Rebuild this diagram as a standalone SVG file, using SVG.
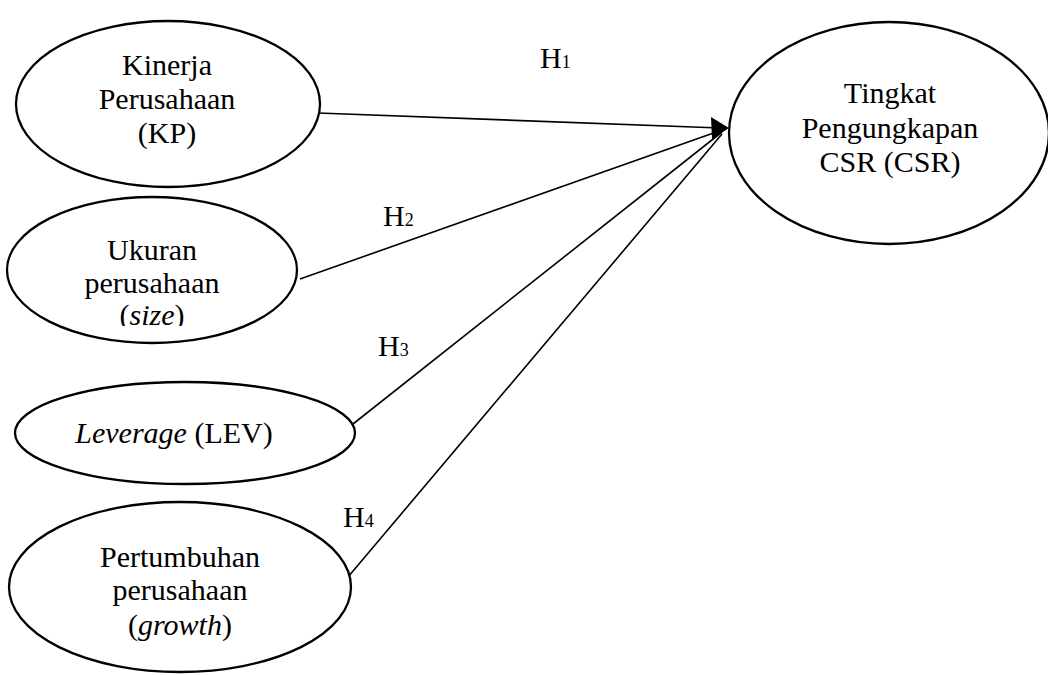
<svg xmlns="http://www.w3.org/2000/svg" width="1048" height="675" viewBox="0 0 1048 675">
<style>
.node ellipse{fill:#fff;stroke:#000;stroke-width:2.3}
text{font-family:"Liberation Serif","DejaVu Serif",serif;font-size:30px;fill:#000;text-anchor:middle}
.lbl{text-anchor:start}
.sub{font-size:18px}
.conn line{stroke:#000;stroke-width:1.6;fill:none}
</style>
<defs>
<clipPath id="c2"><rect x="0" y="180" width="320" height="146"/></clipPath>
<clipPath id="c4"><rect x="0" y="490" width="360" height="153"/></clipPath>
</defs>
<g class="conn">
<line x1="318" y1="113" x2="720" y2="128"/>
<line x1="300" y1="279" x2="722" y2="130"/>
<line x1="353" y1="424" x2="722" y2="132"/>
<line x1="348" y1="577" x2="722" y2="134"/>
<path d="M729,128 L711,117 L712,139 z" fill="#000"/>
</g>
<g id="kp" class="node">
<ellipse cx="168" cy="104" rx="152" ry="83"/>
<text x="167" y="75">Kinerja</text>
<text x="167" y="109">Perusahaan</text>
<text x="167" y="143">(KP)</text>
</g>
<g id="size" class="node">
<ellipse cx="152" cy="270" rx="145" ry="73"/>
<text x="152" y="260">Ukuran</text>
<text x="152" y="293">perusahaan</text>
<text x="152" y="325" clip-path="url(#c2)">(<tspan font-style="italic">size</tspan>)</text>
</g>
<g id="lev" class="node">
<ellipse cx="185" cy="433" rx="170" ry="51"/>
<text x="174" y="443"><tspan font-style="italic">Leverage</tspan> (LEV)</text>
</g>
<g id="growth" class="node">
<ellipse cx="180" cy="587" rx="171" ry="85"/>
<text x="180" y="567">Pertumbuhan</text>
<text x="180" y="600">perusahaan</text>
<text x="180" y="635" clip-path="url(#c4)">(<tspan font-style="italic">growth</tspan>)</text>
</g>
<g id="csr" class="node">
<ellipse cx="889" cy="133" rx="160" ry="111"/>
<text x="890" y="103">Tingkat</text>
<text x="890" y="138">Pengungkapan</text>
<text x="890" y="172">CSR (CSR)</text>
</g>
<g id="labels">
<text class="lbl" x="540" y="68">H<tspan class="sub">1</tspan></text>
<text class="lbl" x="383" y="226">H<tspan class="sub">2</tspan></text>
<text class="lbl" x="378" y="356">H<tspan class="sub">3</tspan></text>
<text class="lbl" x="343" y="527">H<tspan class="sub">4</tspan></text>
</g>
</svg>
